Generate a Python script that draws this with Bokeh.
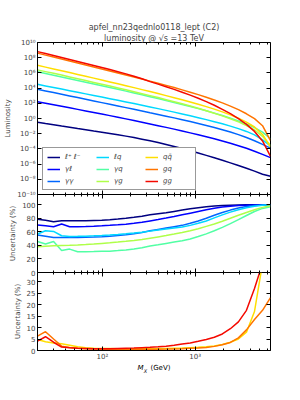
import numpy as np
from bokeh.plotting import figure
from bokeh.models import (Range1d, LogAxis, LinearAxis, FixedTicker, CustomJSTickFormatter,
                          Legend, LegendItem, Title, Label)
from bokeh.layouts import column
from bokeh.embed import file_html
from bokeh.resources import INLINE
from bokeh.core.properties import value

# ---------------- data ----------------
mass_gev = [20, 24.4, 29.8, 36.4, 44.4, 54.2, 66.2, 80.8, 98.7, 120.5, 147.1, 179.5, 219.2,
            267.6, 326.6, 398.8, 486.8, 594.3, 725.5, 885.7, 1081, 1320, 1611, 1967, 2401,
            2931, 3579, 4369, 5333, 6500]

channel_labels = ["ℓ⁺ ℓ⁻", "γℓ", "γγ", "ℓq", "γq", "γg", "qq̄", "gq", "gg"]
channel_colors = ["#000080", "#0000ff", "#0066ff", "#00d8ff", "#52ffa4", "#afff49",
                  "#ffde00", "#ff7400", "#f40900"]

# log10 of luminosity
lum_ll = [-0.48, -0.65, -0.81, -0.98, -1.14, -1.31, -1.47, -1.64, -1.80, -1.97, -2.14, -2.32,
          -2.51, -2.72, -2.94, -3.17, -3.42, -3.68, -3.95, -4.24, -4.54, -4.85, -5.17, -5.50,
          -5.84, -6.19, -6.55, -6.93, -7.33, -7.60]
lum_al = [2.20, 2.00, 1.80, 1.60, 1.40, 1.20, 1.00, 0.80, 0.59, 0.38, 0.17, -0.05, -0.27, -0.49,
          -0.71, -0.94, -1.17, -1.40, -1.64, -1.89, -2.14, -2.40, -2.67, -2.96, -3.26, -3.58,
          -3.92, -4.30, -4.72, -5.15]
lum_aa = [3.85, 3.63, 3.41, 3.19, 2.97, 2.75, 2.53, 2.31, 2.09, 1.87, 1.65, 1.43, 1.21, 0.99,
          0.76, 0.54, 0.31, 0.08, -0.16, -0.40, -0.65, -0.91, -1.18, -1.47, -1.78, -2.12,
          -2.50, -2.93, -3.40, -3.90]
lum_lq = [4.50, 4.29, 4.08, 3.87, 3.66, 3.45, 3.24, 3.03, 2.82, 2.61, 2.40, 2.18, 1.96, 1.74,
          1.52, 1.30, 1.07, 0.84, 0.60, 0.36, 0.11, -0.15, -0.42, -0.70, -1.00, -1.33, -1.70,
          -2.15, -2.80, -3.60]
lum_aq = [6.15, 5.92, 5.69, 5.46, 5.23, 5.00, 4.77, 4.54, 4.31, 4.08, 3.84, 3.60, 3.36, 3.12,
          2.87, 2.62, 2.37, 2.11, 1.85, 1.58, 1.30, 1.01, 0.71, 0.39, 0.05, -0.32, -0.73,
          -1.20, -1.80, -2.66]
lum_ag = [6.40, 6.17, 5.94, 5.71, 5.47, 5.23, 4.99, 4.75, 4.51, 4.27, 4.02, 3.77, 3.52, 3.27,
          3.01, 2.75, 2.48, 2.21, 1.93, 1.64, 1.34, 1.03, 0.70, 0.35, -0.03, -0.45, -0.92,
          -1.50, -2.35, -3.54]
lum_qqbar = [7.00, 6.76, 6.52, 6.28, 6.04, 5.80, 5.56, 5.31, 5.06, 4.81, 4.56, 4.31, 4.06, 3.80,
             3.54, 3.28, 3.01, 2.74, 2.46, 2.17, 1.87, 1.56, 1.23, 0.87, 0.48, 0.04, -0.48,
             -1.12, -2.10, -3.76]
lum_gq = [8.60, 8.34, 8.08, 7.82, 7.56, 7.30, 7.04, 6.78, 6.52, 6.26, 6.00, 5.73, 5.46, 5.19,
          4.92, 4.64, 4.36, 4.07, 3.77, 3.46, 3.14, 2.80, 2.44, 2.05, 1.63, 1.16, 0.62, -0.02,
          -0.95, -2.90]
lum_gg = [8.80, 8.54, 8.28, 8.02, 7.76, 7.50, 7.24, 6.98, 6.71, 6.44, 6.16, 5.87, 5.56, 5.22,
          4.85, 4.52, 4.18, 3.83, 3.46, 3.07, 2.66, 2.22, 1.74, 1.21, 0.63, -0.02, -0.78,
          -1.70, -2.95, -5.00]

# uncertainty (%) - photon / lepton channels
unc_ll = [78.5, 77.0, 74.9, 76.4, 76.2, 76.2, 76.4, 76.7, 77.0, 77.8, 78.8, 80.0, 81.3, 83.0,
          85.0, 86.5, 88.0, 90.0, 92.0, 94.0, 95.5, 96.8, 98.0, 98.8, 99.3, 99.6, 99.8, 99.9,
          100.0, 100.0]
unc_al = [70.0, 68.8, 67.5, 71.5, 67.5, 67.5, 67.8, 68.2, 68.8, 69.5, 70.3, 71.2, 72.5, 74.0,
          76.0, 78.0, 80.2, 82.5, 85.0, 87.5, 90.0, 92.5, 94.8, 96.5, 97.8, 98.7, 99.3, 99.7,
          99.9, 100.0]
unc_aa = [55.2, 53.5, 51.7, 51.5, 51.5, 51.6, 51.8, 52.2, 52.8, 53.5, 54.5, 55.5, 57.0, 59.0,
          61.5, 63.5, 65.5, 67.5, 69.5, 72.5, 76.0, 80.0, 84.5, 88.5, 92.0, 95.0, 97.2, 98.7,
          99.5, 100.0]
unc_lq = [56.7, 61.5, 60.6, 54.2, 53.2, 53.3, 53.6, 54.0, 54.6, 55.3, 56.2, 57.2, 58.3, 59.5,
          61.0, 62.5, 64.0, 65.5, 67.0, 69.5, 72.5, 76.0, 80.5, 85.0, 89.0, 92.5, 95.5, 97.8,
          99.2, 100.0]
unc_aq = [45.8, 42.0, 45.6, 32.5, 34.5, 30.6, 30.7, 30.9, 31.2, 31.5, 32.3, 33.3, 34.6, 36.5,
          39.0, 40.8, 42.8, 44.8, 46.8, 49.5, 53.0, 57.0, 61.5, 66.5, 72.0, 78.0, 84.0, 90.0,
          94.5, 97.0]
unc_ag = [38.0, 38.7, 39.4, 39.8, 40.2, 40.7, 41.3, 42.0, 42.9, 43.8, 44.8, 45.9, 47.1, 48.5,
          50.5, 52.5, 54.5, 56.7, 59.0, 61.5, 64.5, 68.0, 71.5, 75.5, 80.0, 84.5, 88.5, 92.5,
          96.0, 98.5]
# uncertainty (%) - quark / gluon channels
unc_qqbar = [4.8, 3.8, 3.3, 2.9, 2.3, 1.6, 1.2, 1.0, 0.9, 0.85, 0.8, 0.8, 0.8, 0.8, 0.8, 0.85,
             0.9, 1.0, 1.1, 1.25, 1.4, 1.6, 2.0, 2.6, 3.6, 5.0, 8.0, 17.0, 38.0, 60.0]
unc_gq = [6.3, 8.2, 5.0, 1.9, 1.3, 1.0, 0.8, 0.6, 0.5, 0.45, 0.4, 0.4, 0.4, 0.45, 0.5, 0.55,
          0.6, 0.7, 0.8, 0.95, 1.1, 1.3, 1.8, 2.5, 3.5, 5.5, 9.0, 13.5, 17.5, 23.0]
unc_gg = [4.1, 6.0, 3.6, 1.5, 1.2, 1.0, 0.9, 0.8, 0.8, 0.8, 0.9, 1.0, 1.1, 1.25, 1.4, 1.6,
          1.9, 2.3, 2.8, 3.3, 4.0, 4.8, 5.8, 7.2, 9.5, 12.5, 17.5, 27.0, 38.0, 60.0]

lum_series = [lum_ll, lum_al, lum_aa, lum_lq, lum_aq, lum_ag, lum_qqbar, lum_gq, lum_gg]
unc_mid = [unc_ll, unc_al, unc_aa, unc_lq, unc_aq, unc_ag]
unc_low = [unc_qqbar, unc_gq, unc_gg]

x_major = [100, 1000]
x_minor = [20, 30, 40, 50, 60, 70, 80, 90, 200, 300, 400, 500, 600, 700, 800, 900,
           2000, 3000, 4000, 5000, 6000]
lum_ticks = [1e-10, 1e-8, 1e-6, 1e-4, 1e-2, 1e0, 1e2, 1e4, 1e6, 1e8, 1e10]
mid_ticks = [0, 20, 40, 60, 80, 100]
low_ticks = [0, 5, 10, 15, 20, 25, 30]

X_MIN, X_MAX = 20, 6500
LUM_MIN, LUM_MAX = 1e-10, 1e10
MID_MAX = 115
LOW_MAX = 34

# ---------------- styling helpers ----------------
FONT = "DejaVu Sans"
TICK_FS = "7px"
FW = 233           # frame width
LB, RB = 37, 10
OVER = 4           # room for tick labels that sit on a shared panel edge

SUP_CODE = """
const sup = {'-':'\\u207b','0':'\\u2070','1':'\\u00b9','2':'\\u00b2','3':'\\u00b3','4':'\\u2074',
             '5':'\\u2075','6':'\\u2076','7':'\\u2077','8':'\\u2078','9':'\\u2079'};
const e = Math.round(Math.log10(tick));
return '10' + String(e).split('').map(c => sup[c]).join('');
"""


def tick_style(ax, major, minor=None, show_labels=True, fixed=None):
    ax.ticker = FixedTicker(ticks=major, minor_ticks=minor or [])
    ax.major_tick_in = 4
    ax.major_tick_out = 0
    ax.minor_tick_in = 2
    ax.minor_tick_out = 0
    ax.major_tick_line_color = "black"
    ax.minor_tick_line_color = "black"
    ax.axis_line_color = "black"
    ax.major_label_text_font = FONT
    ax.axis_label_text_font = FONT
    ax.axis_label_text_font_style = "normal"
    ax.axis_label_text_font_size = "7px"
    if show_labels:
        ax.major_label_text_font_size = TICK_FS
        ax.major_label_standoff = 2
    else:
        ax.formatter = CustomJSTickFormatter(code="return '';")
        ax.major_label_text_font_size = "1px"
        ax.major_label_standoff = 0
    if fixed is not None:
        ax.fixed_location = fixed


def make_fig(frame_h, y_range, y_log, top, bottom, margin=None):
    kw = {}
    if margin is not None:
        kw["margin"] = margin
    p = figure(frame_width=FW, frame_height=frame_h, x_range=x_range, y_range=y_range,
               x_axis_type="log", y_axis_type="log" if y_log else "linear",
               output_backend="svg", toolbar_location=None,
               min_border_left=LB, min_border_right=RB,
               min_border_top=top, min_border_bottom=bottom, **kw)
    p.grid.visible = False
    p.outline_line_color = "black"
    p.outline_line_width = 1
    p.background_fill_color = "white"
    p.border_fill_color = "white"
    p.border_fill_alpha = 0
    return p


x_range = Range1d(X_MIN, X_MAX)

# ---------------- top panel: luminosity ----------------
p1 = make_fig(152, Range1d(LUM_MIN, LUM_MAX), True, 42, OVER)
items = []
for lab, col, ser in zip(channel_labels, channel_colors, lum_series):
    r = p1.line(mass_gev, [10 ** v for v in ser], line_color=col, line_width=1.5)
    items.append(LegendItem(label=lab, renderers=[r]))

tick_style(p1.yaxis[0], lum_ticks)
p1.yaxis[0].formatter = CustomJSTickFormatter(code=SUP_CODE)
p1.yaxis[0].axis_label = "Luminosity"
p1.yaxis[0].axis_label_standoff = 2
tick_style(p1.xaxis[0], x_major, x_minor, show_labels=False, fixed=LUM_MIN)
ra = LogAxis()
tick_style(ra, lum_ticks, show_labels=False, fixed=X_MAX)
p1.add_layout(ra, "right")
ta = LogAxis()
tick_style(ta, x_major, x_minor, show_labels=False, fixed=LUM_MAX)
p1.add_layout(ta, "above")

p1.title.text = "apfel_nn23qednlo0118_lept (C2)"
p1.title.align = "center"
p1.title.text_font = FONT
p1.title.text_font_size = "8px"
p1.title.text_font_style = "normal"
p1.title.standoff = 0
p1.add_layout(Title(text="luminosity @ √s =13 TeV", align="center", text_font=FONT,
                    text_font_size="8px", text_font_style="normal", standoff=0), "above")

legend = Legend(items=items, ncols=3, location=(5, 4),
                label_text_font=FONT, label_text_font_size="7px",
                label_text_font_style="italic", glyph_width=13, glyph_height=8,
                label_height=9, label_width=28, spacing=3, padding=4, margin=0,
                border_line_color="#333333", border_line_width=1,
                background_fill_color="white", background_fill_alpha=1)
p1.add_layout(legend, "center")

# ---------------- middle panel ----------------
p2 = make_fig(78, Range1d(0, MID_MAX), False, 0, OVER, margin=(-OVER, 0, 0, 0))
for col, ser in zip(channel_colors[:6], unc_mid):
    p2.line(mass_gev, ser, line_color=col, line_width=1.5)
tick_style(p2.yaxis[0], mid_ticks)
p2.yaxis[0].axis_label = "Uncertainty (%)"
p2.yaxis[0].axis_label_standoff = 2
tick_style(p2.xaxis[0], x_major, x_minor, show_labels=False, fixed=0)
ra2 = LinearAxis()
tick_style(ra2, mid_ticks, show_labels=False, fixed=X_MAX)
p2.add_layout(ra2, "right")
ta2 = LogAxis()
tick_style(ta2, x_major, x_minor, show_labels=False, fixed=MID_MAX)
p2.add_layout(ta2, "above")

# ---------------- bottom panel ----------------
p3 = make_fig(78, Range1d(0, LOW_MAX), False, 0, 12, margin=(-OVER, 0, 0, 0))
for col, ser in zip(channel_colors[6:], unc_low):
    p3.line(mass_gev, ser, line_color=col, line_width=1.5)
tick_style(p3.yaxis[0], low_ticks)
p3.yaxis[0].axis_label = "Uncertainty (%)"
p3.yaxis[0].axis_label_standoff = 2
tick_style(p3.xaxis[0], x_major, x_minor)
p3.xaxis[0].formatter = CustomJSTickFormatter(code=SUP_CODE)
ra3 = LinearAxis()
tick_style(ra3, low_ticks, show_labels=False, fixed=X_MAX)
p3.add_layout(ra3, "right")
ta3 = LogAxis()
tick_style(ta3, x_major, x_minor, show_labels=False, fixed=LOW_MAX)
p3.add_layout(ta3, "above")

# ---------------- x-axis title strip: "M_X (GeV)" ----------------
p4 = figure(frame_width=FW, frame_height=16, x_range=x_range, y_range=Range1d(0, 1),
            x_axis_type="log", output_backend="svg", toolbar_location=None,
            min_border_left=LB, min_border_right=RB, min_border_top=0, min_border_bottom=0)
p4.axis.visible = False
p4.grid.visible = False
p4.outline_line_color = None
p4.border_fill_color = "white"
p4.background_fill_color = "white"
for txt, xd, yd, fs, style in [("M", 240, 0.7, "7px", "italic"),
                               ("X", 280, 0.55, "5px", "italic"),
                               ("(GeV)", 330, 0.7, "7px", "normal")]:
    p4.add_layout(Label(x=xd, y=yd, text=txt, text_font=FONT, text_font_size=fs,
                        text_font_style=style, text_baseline="middle", text_align="left",
                        text_color="black"))

layout = column(p1, p2, p3, p4)
open("out.html", "w").write(file_html(layout, INLINE))
